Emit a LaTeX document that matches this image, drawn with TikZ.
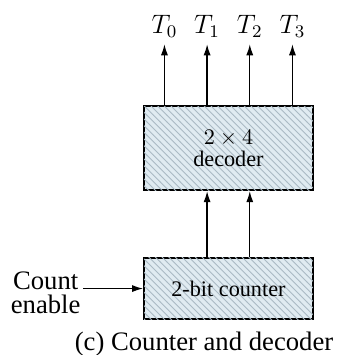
\documentclass[tikz,border=0pt]{standalone}
\usepackage{fontspec}
\setmainfont{Liberation Serif}
\usetikzlibrary{arrows.meta, calc, positioning, patterns}
\definecolor{boxfill}{RGB}{224,235,241}
\definecolor{hatch}{RGB}{170,186,196}

\begin{document}
\begin{tikzpicture}[
    >={Latex[width=3.2pt,length=5pt]},
    every node/.style={font=\large},
    blk/.style  ={draw, thick, align=center, inner sep=2pt, minimum width=76pt,
                  fill=boxfill, postaction={pattern=north west lines, pattern color=hatch},
                  font=\fontsize{10}{10}\selectfont},
    inlabel/.style={align=center, inner sep=1pt, font=\fontsize{12}{11}\selectfont},
    sig/.style  ={->, semithick},
]
\useasboundingbox (0,0) rectangle (153.45pt,159.75pt);
\node[blk, minimum height=27.5pt] (cnt) at (102.8pt,29.9pt) {2-bit counter};
\node[blk, minimum height=37.8pt, above=29.7pt of cnt] (dec) {$2\times4$\\decoder};
\node[inlabel, left=27pt of cnt, yshift=-2pt] (en) {Count\\enable};
\node[below=3pt of cnt, xshift=-11pt, inner sep=2pt] (cap) {(c) Counter and decoder};
% decoder outputs T0..T3
\foreach \i in {0,...,3} {
  \coordinate (o\i) at ($(dec.north west)!{(2*\i+1)/8}!(dec.north east)$);
  \node[inner sep=0pt, anchor=south] (t\i) at ([yshift=30.5pt]o\i) {$T_\i$};
  \draw[sig, shorten >=3pt] (o\i) -- (t\i.south);
}
% counter outputs into decoder
\foreach \i in {1,2} {
  \coordinate (c\i) at ($(cnt.north west)!{(2*\i+1)/8}!(cnt.north east)$);
  \draw[sig] (c\i) -- (c\i |- dec.south);
}
\draw[sig] (en.east |- cnt.west) -- (cnt);
\end{tikzpicture}
\end{document}
